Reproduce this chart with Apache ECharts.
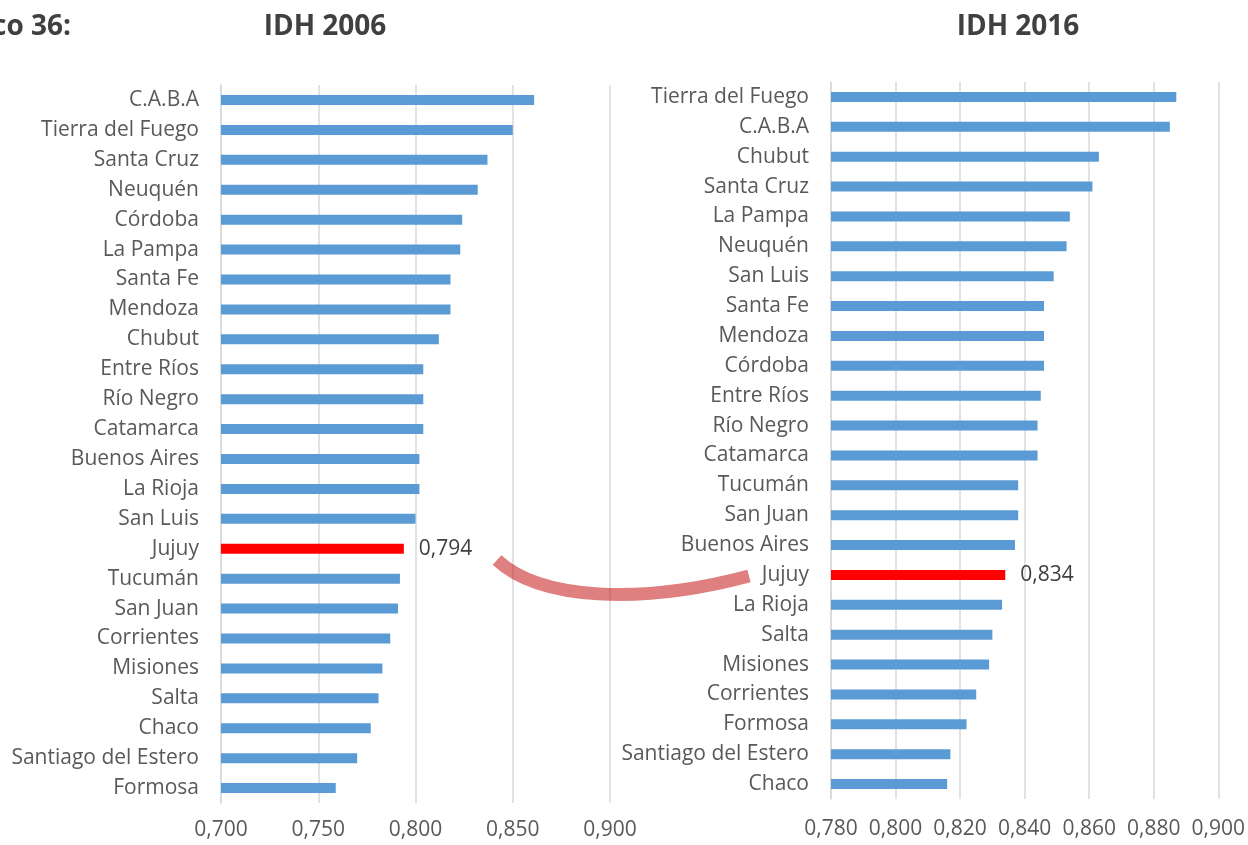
<!DOCTYPE html>
<html>
<head>
<meta charset="utf-8">
<script src="https://cdn.jsdelivr.net/npm/echarts@6/dist/echarts.min.js"></script>
<style>
  html, body { margin: 0; padding: 0; background: #ffffff; }
  #chart { width: 1248px; height: 845px; }
</style>
</head>
<body>
<div id="chart"></div>
<script>
// IDH por provincia, 2006 (ordenado de mayor a menor)
const provincias2006 = ['C.A.B.A', 'Tierra del Fuego', 'Santa Cruz', 'Neuquén', 'Córdoba', 'La Pampa',
  'Santa Fe', 'Mendoza', 'Chubut', 'Entre Ríos', 'Río Negro', 'Catamarca', 'Buenos Aires',
  'La Rioja', 'San Luis', 'Jujuy', 'Tucumán', 'San Juan', 'Corrientes', 'Misiones', 'Salta',
  'Chaco', 'Santiago del Estero', 'Formosa'];
const idh2006 = [0.861, 0.850, 0.837, 0.832, 0.824, 0.823, 0.818, 0.818, 0.812, 0.804, 0.804,
  0.804, 0.802, 0.802, 0.800, 0.794, 0.792, 0.791, 0.787, 0.783, 0.781, 0.777, 0.770, 0.759];

// IDH por provincia, 2016
const provincias2016 = ['Tierra del Fuego', 'C.A.B.A', 'Chubut', 'Santa Cruz', 'La Pampa', 'Neuquén',
  'San Luis', 'Santa Fe', 'Mendoza', 'Córdoba', 'Entre Ríos', 'Río Negro', 'Catamarca',
  'Tucumán', 'San Juan', 'Buenos Aires', 'Jujuy', 'La Rioja', 'Salta', 'Misiones',
  'Corrientes', 'Formosa', 'Santiago del Estero', 'Chaco'];
const idh2016 = [0.887, 0.885, 0.863, 0.861, 0.854, 0.853, 0.849, 0.846, 0.846, 0.846, 0.845,
  0.844, 0.844, 0.838, 0.838, 0.837, 0.834, 0.833, 0.830, 0.829, 0.825, 0.822, 0.817, 0.816];

const destacada = 'Jujuy';
const titulos = ['IDH 2006', 'IDH 2016'];
const tituloGrafico = 'Gráfico 36:';

const FONT = '"Open Sans", sans-serif';
const AZUL = '#5B9BD5';
const ROJO = '#FF0000';
const GRIS_GRILLA = '#D9D9D9';
const TEXTO = '#595959';

const coma = v => v.toFixed(3).replace('.', ',');

function barras(cats, vals) {
  return vals.map((v, i) => {
    if (cats[i] !== destacada) return { value: v };
    return {
      value: v,
      itemStyle: { color: ROJO },
      label: {
        show: true, position: 'right', distance: 15,
        formatter: p => coma(p.value),
        color: '#404040', fontFamily: FONT, fontSize: 21
      }
    };
  });
}

function ejeX(idx, min, max, interval, margin) {
  return {
    type: 'value', gridIndex: idx, min, max, interval,
    axisLine: { show: false }, axisTick: { show: false },
    axisLabel: { formatter: coma, color: TEXTO, fontFamily: FONT, fontSize: 21, margin },
    splitLine: { show: true, lineStyle: { color: GRIS_GRILLA, width: 1.5 } }
  };
}

function ejeY(idx, cats) {
  return {
    type: 'category', gridIndex: idx, data: cats, inverse: true,
    axisLine: { show: true, lineStyle: { color: GRIS_GRILLA, width: 1.5 } },
    axisTick: { show: false },
    axisLabel: { color: TEXTO, fontFamily: FONT, fontSize: 21, margin: 22,
      padding: [3, 0, 0, 0] }
  };
}

const chart = echarts.init(document.getElementById('chart'), null, { renderer: 'canvas' });
chart.setOption({
  backgroundColor: '#ffffff',
  animation: false,
  grid: [
    { left: 221, top: 85, width: 389, height: 718 },
    { left: 831, top: 82, width: 388, height: 717 }
  ],
  xAxis: [ejeX(0, 0.7, 0.9, 0.05, 17), ejeX(1, 0.78, 0.9, 0.02, 20)],
  yAxis: [ejeY(0, provincias2006), ejeY(1, provincias2016)],
  series: [
    { type: 'bar', xAxisIndex: 0, yAxisIndex: 0, barWidth: 10,
      itemStyle: { color: AZUL }, data: barras(provincias2006, idh2006) },
    { type: 'bar', xAxisIndex: 1, yAxisIndex: 1, barWidth: 10,
      itemStyle: { color: AZUL }, data: barras(provincias2016, idh2016) }
  ],
  graphic: [
    { type: 'text', x: 71, y: 27,
      style: { text: tituloGrafico, textAlign: 'right', textVerticalAlign: 'middle',
        fill: '#404040', font: 'bold 28px ' + FONT } },
    { type: 'text', x: 325, y: 27,
      style: { text: titulos[0], textAlign: 'center', textVerticalAlign: 'middle',
        fill: '#404040', font: 'bold 28px ' + FONT } },
    { type: 'text', x: 1018, y: 27,
      style: { text: titulos[1], textAlign: 'center', textVerticalAlign: 'middle',
        fill: '#404040', font: 'bold 28px ' + FONT } },
    // flecha curva que une Jujuy 2006 con Jujuy 2016
    { type: 'bezierCurve', z: 10,
      shape: { x1: 497, y1: 560, cpx1: 540, cpy1: 600, cpx2: 640, cpy2: 605, x2: 749, y2: 576 },
      style: { stroke: 'rgba(192,0,0,0.5)', lineWidth: 13, fill: null, lineCap: 'butt' } }
  ]
});
</script>
</body>
</html>
